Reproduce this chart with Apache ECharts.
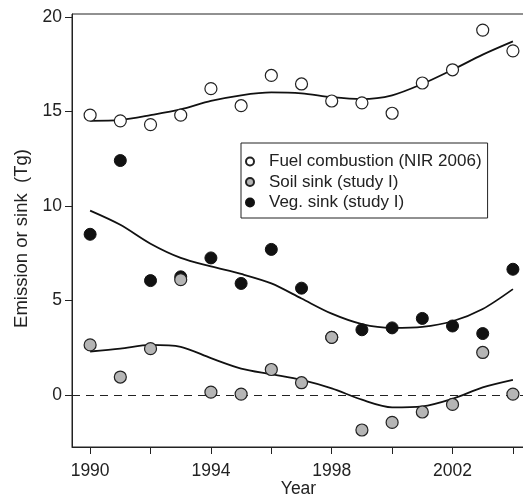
<!DOCTYPE html>
<html><head><meta charset="utf-8">
<script src="https://cdn.jsdelivr.net/npm/echarts@6/dist/echarts.min.js"></script>
<style>html,body{margin:0;padding:0;background:#fff}#c{width:523px;height:494px}</style>
</head><body><div id="c"></div>
<script>
const years = [1990,1991,1992,1993,1994,1995,1996,1997,1998,1999,2000,2001,2002,2003,2004];
const fuelObs = [14.8,14.5,14.3,14.8,16.2,15.3,16.9,16.45,15.55,15.45,14.9,16.5,17.2,19.3,18.2];
const fuelFit = [14.5,14.55,14.8,15.1,15.55,15.85,16.0,15.95,15.75,15.65,15.85,16.45,17.2,18.0,18.7];
const vegObs = [8.5,12.4,6.05,6.25,7.25,5.9,7.7,5.65,3.05,3.45,3.55,4.05,3.65,3.25,6.65];
const vegFit = [9.75,9.0,8.0,7.25,6.8,6.4,5.9,5.1,4.3,3.75,3.55,3.6,3.9,4.55,5.6];
const soilObs = [2.65,0.95,2.45,6.1,0.15,0.05,1.35,0.65,3.05,-1.85,-1.45,-0.9,-0.5,2.25,0.05];
const soilFit = [2.3,2.45,2.65,2.55,1.95,1.4,1.1,0.8,0.35,-0.25,-0.65,-0.6,-0.2,0.4,0.8];
const xTicks = [1990,1992,1994,1996,1998,2000,2002,2004];
const xLabels = [1990,1994,1998,2002];
const yTicks = [0,5,10,15,20];
const legendNames = ['Fuel combustion (NIR 2006)','Soil sink (study I)','Veg. sink (study I)'];

const pair = (a) => years.map((y,i)=>[y,a[i]]);
const chart = echarts.init(document.getElementById('c'));
const ff = 'Liberation Sans, Arial, sans-serif';
const markerBase = {type:'scatter', symbol:'circle', symbolSize:12, z:5};
const lineBase = {type:'line', smooth:0.3, showSymbol:false, symbol:'none', lineStyle:{color:'#111',width:1.8}, itemStyle:{color:'#111'}, z:3, silent:true};
chart.setOption({
  animation:false,
  grid:{left:72, top:14, width:453, height:433, show:true, borderColor:'#222', borderWidth:1, backgroundColor:'transparent', containLabel:false, outerBoundsMode:'none'},
  legend:{
    data:legendNames, orient:'vertical', left:241, top:143,
    borderColor:'#222', borderWidth:1, padding:[10,6,7,4], itemGap:3.5,
    itemWidth:16, itemHeight:8, icon:'circle',
    textStyle:{fontFamily:ff, fontSize:17, color:'#222', padding:[0,0,0,6]}
  },
  xAxis:{type:'value', min:1989.4, max:2004.4,
    name:'Year', nameLocation:'middle', nameGap:33, nameMoveOverlap:false,
    nameTextStyle:{fontFamily:ff, fontSize:17.5, color:'#222'},
    axisLine:{show:true, onZero:false, lineStyle:{color:'#222',width:1}},
    axisTick:{show:true, length:7, customValues:xTicks, lineStyle:{color:'#222'}},
    axisLabel:{customValues:xLabels, formatter:(v)=>String(Math.round(v)), fontFamily:ff, fontSize:17.5, color:'#222', margin:15},
    splitLine:{show:false}},
  yAxis:{type:'value', min:-2.75, max:20.15,
    name:'Emission or sink  (Tg)', nameLocation:'middle', nameGap:41, nameMoveOverlap:false,
    nameTextStyle:{fontFamily:ff, fontSize:18.5, color:'#222', padding:[0,16,0,0]},
    axisLine:{show:true, onZero:false, lineStyle:{color:'#222',width:1}},
    axisTick:{show:true, length:7, customValues:yTicks, lineStyle:{color:'#222'}},
    axisLabel:{customValues:yTicks, formatter:(v)=>String(Math.round(v)), fontFamily:ff, fontSize:17.5, color:'#222', margin:10},
    splitLine:{show:false}},
  series:[
    Object.assign({}, lineBase, {name:'fuelFit', data:pair(fuelFit),
      markLine:{silent:true, symbol:'none', label:{show:false}, lineStyle:{color:'#222', type:[8,6], width:1.2}, data:[{yAxis:0}]}}),
    Object.assign({}, lineBase, {name:'vegFit', data:pair(vegFit)}),
    Object.assign({}, lineBase, {name:'soilFit', data:pair(soilFit)}),
    Object.assign({}, markerBase, {name:legendNames[2], data:pair(vegObs), itemStyle:{color:'#111', borderColor:'#111', borderWidth:1, opacity:1}}),
    Object.assign({}, markerBase, {name:legendNames[1], data:pair(soilObs), itemStyle:{color:'#b5b5b5', borderColor:'#222', borderWidth:1.2, opacity:1}}),
    Object.assign({}, markerBase, {name:legendNames[0], data:pair(fuelObs), itemStyle:{color:'#fff', borderColor:'#222', borderWidth:1.2, opacity:1}})
  ]
});
</script></body></html>
